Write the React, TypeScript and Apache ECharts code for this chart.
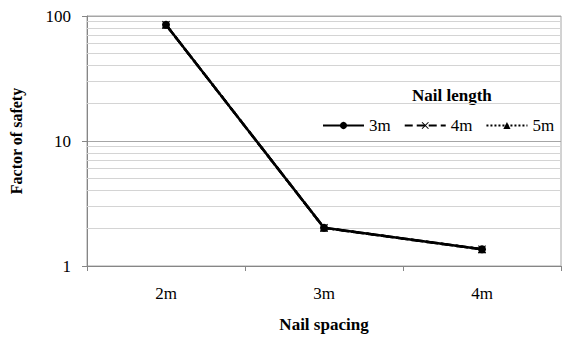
import React, { useEffect, useRef } from "react";
import * as echarts from "echarts";

const categories = ["2m", "3m", "4m"];
const seriesNames = ["3m", "4m", "5m"];
const values3m = [85, 2.02, 1.36];
const values4m = [85, 2.02, 1.36];
const values5m = [85, 2.02, 1.36];
const minorGrid = [2, 3, 4, 5, 6, 7, 8, 9, 20, 30, 40, 50, 60, 70, 80, 90];

const FONT = "Liberation Serif";
const CROSS =
  "path://M0,1L1,0L5,4L9,0L10,1L6,5L10,9L9,10L5,6L1,10L0,9L4,5Z";
const txt = { fontFamily: FONT, fontSize: 17, fontWeight: "normal", color: "#000" };

export default function App() {
  const ref = useRef<HTMLDivElement>(null);
  useEffect(() => {
    if (!ref.current) return;
    const chart = echarts.init(ref.current, undefined, { renderer: "svg" });
    const mkSeries = (
      name: string,
      data: number[],
      symbol: string,
      type: string,
      size: number
    ) => ({
      name,
      type: "line",
      data,
      symbol,
      symbolSize: size,
      showSymbol: true,
      z: 5,
      itemStyle: { color: "#000" },
      lineStyle: { color: "#000", width: 2.5, type },
    });
    chart.setOption({
      animation: false,
      textStyle: { fontFamily: FONT },
      grid: {
        left: 84,
        right: 2,
        top: 16,
        bottom: 69.5,
        show: true,
        borderColor: "#a6a6a6",
        borderWidth: 1,
      },
      legend: {
        data: seriesNames,
        left: 322,
        top: 117,
        itemWidth: 41,
        itemHeight: 9,
        itemGap: 13,
        selectedMode: false,
        textStyle: { ...txt },
        padding: 0,
      },
      graphic: [
        {
          type: "text",
          left: 412,
          top: 87,
          style: {
            text: "Nail length",
            font: `bold 17px ${FONT}`,
            fill: "#000",
          },
        },
      ],
      xAxis: {
        type: "category",
        data: categories,
        boundaryGap: true,
        name: "Nail spacing",
        nameLocation: "middle",
        nameGap: 50,
        nameTextStyle: { fontFamily: FONT, fontSize: 17, fontWeight: "bold", color: "#000" },
        axisLine: { lineStyle: { color: "#868686", width: 1 } },
        axisTick: { show: true, length: 5, lineStyle: { color: "#868686" } },
        axisLabel: { ...txt, margin: 19 },
        splitLine: { show: false },
      },
      yAxis: {
        type: "log",
        logBase: 10,
        min: 1,
        max: 100,
        name: "Factor of safety",
        nameLocation: "middle",
        nameRotate: 90,
        nameGap: 63,
        nameTextStyle: { fontFamily: FONT, fontSize: 16, fontWeight: "bold", color: "#000" },
        axisLine: { show: true, lineStyle: { color: "#868686", width: 1 } },
        axisTick: { show: true, length: 5, lineStyle: { color: "#868686" } },
        axisLabel: { ...txt, margin: 16 },
        splitLine: { show: true, lineStyle: { color: "#a6a6a6", width: 1 } },
      },
      series: [
        {
          name: "grid-minor",
          type: "line",
          data: ["-", "-", "-"],
          z: 1,
          silent: true,
          symbol: "none",
          markLine: {
            silent: true,
            symbol: ["none", "none"],
            label: { show: false },
            lineStyle: { color: "#d4d4d4", width: 1, type: "solid" },
            data: minorGrid.map((v) => ({ yAxis: v })),
          },
        },
        mkSeries("3m", values3m, "circle", "solid", 8),
        mkSeries("4m", values4m, CROSS, "dashed", 8),
        mkSeries("5m", values5m, "triangle", "dotted", 8),
      ],
    });
    return () => chart.dispose();
  }, []);
  return <div ref={ref} style={{ width: 563, height: 338, position: "absolute", left: 0, top: 0 }} />;
}
